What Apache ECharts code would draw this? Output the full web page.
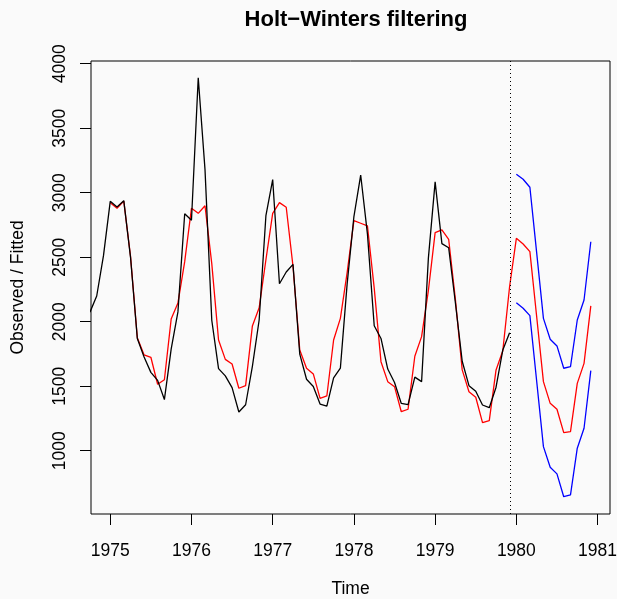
<!DOCTYPE html>
<html>
<head>
<meta charset="utf-8">
<script src="https://cdn.jsdelivr.net/npm/echarts@6/dist/echarts.min.js"></script>
<style>
html,body{margin:0;padding:0;background:#fafafa;}
#chart{width:617px;height:599px;}
</style>
</head>
<body>
<div id="chart"></div>
<script>
// Observed (monthly), starting Oct 1974
var observedStart = 1974 + 9/12;
var observed = [2074, 2199, 2512,
  2933, 2889, 2938, 2497, 1870, 1726, 1607, 1545, 1396, 1787, 2076, 2837,
  2787, 3891, 3179, 2011, 1636, 1580, 1489, 1300, 1356, 1653, 2013, 2823,
  3102, 2294, 2385, 2444, 1748, 1554, 1498, 1361, 1346, 1564, 1640, 2293,
  2815, 3137, 2679, 1969, 1870, 1633, 1529, 1366, 1357, 1570, 1535, 2491,
  3084, 2605, 2573, 2143, 1693, 1504, 1461, 1354, 1333, 1492, 1781, 1915];
// Fitted (Jan 1975 - Dec 1979)
var fittedStart = 1975;
var fitted = [2923, 2879, 2935, 2505, 1875, 1742, 1724, 1515, 1550, 2020, 2145, 2465,
  2879, 2840, 2899, 2450, 1858, 1708, 1672, 1484, 1504, 1967, 2108, 2480,
  2840, 2923, 2887, 2430, 1781, 1639, 1595, 1406, 1424, 1858, 2026, 2380,
  2783, 2763, 2742, 2260, 1690, 1535, 1496, 1302, 1321, 1732, 1884, 2240,
  2690, 2711, 2639, 2170, 1626, 1457, 1414, 1217, 1233, 1626, 1775, 2271];
// Predictions (Jan 1980 - Dec 1980)
var predStart = 1980;
var predicted = [2646, 2602, 2543, 2040, 1535, 1367, 1321, 1140, 1147, 1522, 1677, 2122];
var upper = [3143, 3104, 3042, 2535, 2026, 1864, 1812, 1639, 1651, 2013, 2168, 2620];
var lower = [2147, 2104, 2047, 1540, 1031, 871, 820, 643, 657, 1019, 1174, 1620];
var xTicks = [1975, 1976, 1977, 1978, 1979, 1980, 1981];
var yTicks = [1000, 1500, 2000, 2500, 3000, 3500, 4000];

function toPairs(start, arr) {
  return arr.map(function (v, i) { return [start + i / 12, v]; });
}
var redData = toPairs(fittedStart, fitted.concat(predicted));
var obsData = toPairs(observedStart, observed);
var sepX = observedStart + (observed.length - 1) / 12;

var FONT = 'Liberation Sans';
var FS = 17.5;
var chart = echarts.init(document.getElementById('chart'), null, {renderer: 'canvas'});
chart.setOption({
  animation: false,
  backgroundColor: '#fafafa',
  title: {
    text: 'Holt\u2212Winters filtering',
    left: 351, top: 4, textAlign: 'center',
    textStyle: {fontFamily: FONT, fontWeight: 'bold', fontSize: 22, color: '#000'}
  },
  grid: {left: 91, right: 7, top: 61, bottom: 85, outerBoundsMode: 'none', containLabel: false,
    show: true, borderColor: '#000', borderWidth: 1, backgroundColor: 'transparent'},
  xAxis: {
    type: 'value', min: 1974.763, max: 1981.153,
    name: 'Time', nameLocation: 'middle', nameGap: 66,
    nameTextStyle: {fontFamily: FONT, fontSize: FS, color: '#000'},
    axisLine: {show: false},
    splitLine: {show: false},
    axisTick: {show: true, length: 11, customValues: xTicks, lineStyle: {color: '#000', width: 1}},
    axisLabel: {customValues: xTicks, margin: 28, fontFamily: FONT, fontSize: FS, color: '#000',
      formatter: function (v) { return String(v); }}
  },
  yAxis: {
    type: 'value', min: 509, max: 4021,
    name: 'Observed / Fitted', nameLocation: 'middle', nameGap: 64,
    nameTextStyle: {fontFamily: FONT, fontSize: FS, color: '#000'},
    axisLine: {show: false},
    splitLine: {show: false},
    axisTick: {show: true, length: 11, customValues: yTicks, lineStyle: {color: '#000', width: 1}},
    axisLabel: {customValues: yTicks, rotate: 90, margin: 22, fontFamily: FONT, fontSize: FS, color: '#000',
      formatter: function (v) { return String(v); }}
  },
  series: [
    {type: 'line', name: 'observed', data: obsData, showSymbol: false, symbol: 'none',
      lineStyle: {color: '#000', width: 1.3}, clip: true, z: 3,
      markLine: {silent: true, symbol: 'none', label: {show: false},
        lineStyle: {color: '#000', type: [1, 3], width: 1},
        data: [{xAxis: sepX}]}},
    {type: 'line', name: 'fitted', data: redData, showSymbol: false, symbol: 'none',
      lineStyle: {color: '#ff0000', width: 1.3}, clip: true, z: 2},
    {type: 'line', name: 'upper', data: toPairs(predStart, upper), showSymbol: false, symbol: 'none',
      lineStyle: {color: '#0000ff', width: 1.3}, clip: true, z: 2},
    {type: 'line', name: 'lower', data: toPairs(predStart, lower), showSymbol: false, symbol: 'none',
      lineStyle: {color: '#0000ff', width: 1.3}, clip: true, z: 2}
  ]
});
</script>
</body>
</html>
